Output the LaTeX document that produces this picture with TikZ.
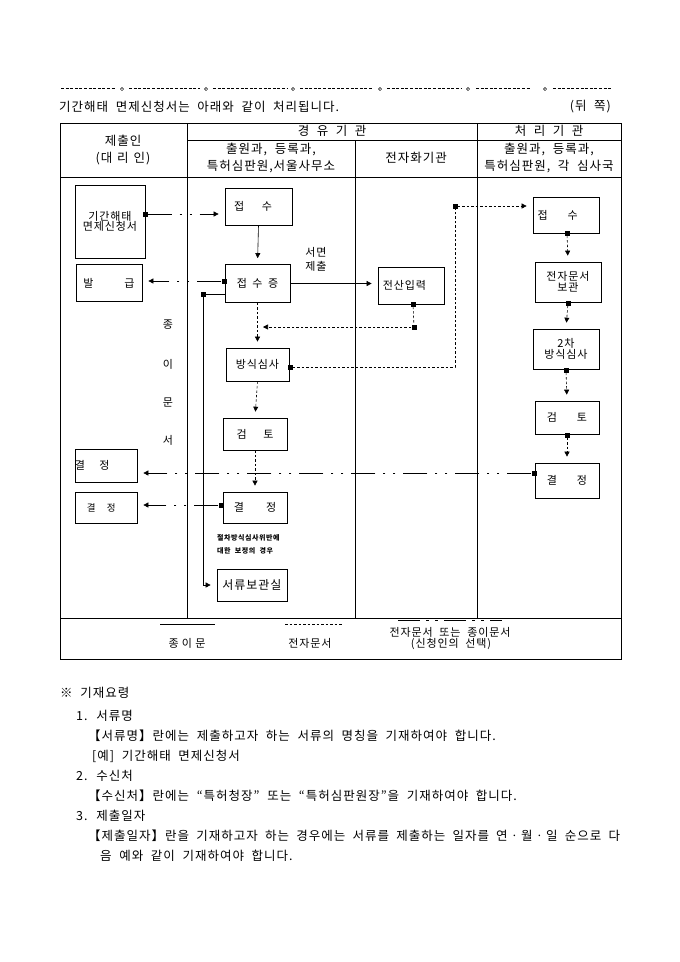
\documentclass[tikz,border=0pt]{standalone}
\usepackage{fontspec}
\setmainfont{Noto Sans CJK KR}[LetterSpace=8, WordSpace=2]
\usetikzlibrary{arrows.meta}
\newcommand{\hsz}{\fontsize{12.5}{14}\selectfont}
\newcommand{\dsz}{\fontsize{11}{12.5}\selectfont}
\newcommand{\tsz}{\fontsize{7}{8}\selectfont}
\begin{document}
\begin{tikzpicture}[x=1pt,y=-1pt,
  box/.style={draw, line width=0.7pt, inner sep=0pt, font=\dsz, align=center},
  sq/.style={fill, inner sep=0pt, minimum size=5pt},
  tbl/.style={line width=0.8pt},
  paper/.style={line width=0.6pt},
  elec/.style={line width=0.6pt, dash pattern=on 2.5pt off 2pt},
  either/.style={line width=0.6pt, dash pattern=on 24pt off 8pt on 2pt off 8pt on 2pt off 8pt},
  arr/.style={-{Triangle[length=5pt,width=5pt]}, shorten >=6pt},
  lbl/.style={inner sep=0pt, font=\dsz, align=center},
  txt/.style={inner sep=0pt, anchor=west, font=\hsz}]
\useasboundingbox (0,0) rectangle (680,962);

% top separator
\foreach \a/\b in {61/116,129/200,213/287,300/373,387/461,476/531,553/611}
  \draw[line width=0.6pt, dash pattern=on 3pt off 1.6pt] (\a,88) -- (\b,88);
\foreach \c in {122,206,293,380,468,545}
  \draw[line width=0.5pt] (\c,89) circle (1.6);

\node[txt] (title) at (59,107) {기간해태 면제신청서는 아래와 같이 처리됩니다.};
\node[inner sep=0pt, anchor=east, font=\hsz] (side) at (611,107) {(뒤\hspace{0.6em}쪽)};

% table frame
\draw[tbl] (60,123) rectangle (621,659);
\draw[tbl] (187,140) -- (621,140);
\draw[tbl] (60,177) -- (621,177);
\draw[tbl] (60,618) -- (621,618);
\draw[tbl] (187,123) -- (187,618);
\draw[tbl] (355,140) -- (355,618);
\draw[tbl] (477,123) -- (477,618);

% headers
\node[lbl, font=\hsz] (h1a) at (123,141) {제출인};
\node[lbl, font=\hsz] (h1b) at (123,159) {(대\hspace{0.4em}리\hspace{0.4em}인)};
\node[lbl, font=\hsz] (h2) at (332,131) {경\hspace{0.6em}유\hspace{0.6em}기\hspace{0.6em}관};
\node[lbl, font=\hsz] (h3) at (549,131) {처\hspace{0.6em}리\hspace{0.6em}기\hspace{0.6em}관};
\node[lbl, font=\hsz] (h2a) at (271,149) {출원과, 등록과,};
\node[lbl, font=\hsz] (h2b) at (271,167) {특허심판원,서울사무소};
\node[lbl, font=\hsz] (h4) at (416,158) {전자화기관};
\node[lbl, font=\hsz] (h3a) at (549,149) {출원과, 등록과,};
\node[lbl, font=\hsz] (h3b) at (549,167) {특허심판원, 각 심사국};

% boxes
\node[box, minimum width=70pt, minimum height=73pt] (n_app) at (110,221.5) {기간해태\\[-3pt]면제신청서};
\node[box, minimum width=67pt, minimum height=37pt] (n_rcv) at (258.5,206.5) {접\hspace{1.6em}수\hspace{1em}};
\node[box, minimum width=66pt, minimum height=37pt] (n_issue) at (109,283) {발\hspace{2.8em}급};
\node[box, minimum width=65pt, minimum height=38pt] (n_rcpt) at (257.5,283.5) {접\hspace{0.5em}수\hspace{0.5em}증};
\node[box, minimum width=66pt, minimum height=37pt] (n_input) at (411,285.5) {전산입력\hspace{1.2em}};
\node[box, minimum width=63pt, minimum height=33pt] (n_form) at (257.5,364.5) {방식심사};
\node[box, minimum width=64pt, minimum height=32pt] (n_rev) at (255,434) {검\hspace{1.5em}토};
\node[box, minimum width=64pt, minimum height=31pt] (n_dec) at (255,507.5) {결\hspace{2em}정};
\node[box, minimum width=70pt, minimum height=32pt, font=\fontsize{12}{13}\selectfont] (n_store) at (252,585) {서류보관실};
\node[box, minimum width=62pt, minimum height=33pt] (n_dec1) at (106,465.5) {};
\node[lbl, anchor=west] (t_dec1) at (n_dec1.west) {결\hspace{1.3em}정};
\node[box, minimum width=62pt, minimum height=31pt, font=\fontsize{9.5}{11}\selectfont] (n_dec2) at (106,507.5) {결\hspace{1.2em}정\hspace{1em}};
\node[box, minimum width=66pt, minimum height=36pt] (r_rcv) at (566,215) {접\hspace{1.8em}수\hspace{1.5em}};
\node[box, minimum width=66pt, minimum height=40pt] (r_keep) at (568,282) {전자문서\\[-2pt]보관};
\node[box, minimum width=66pt, minimum height=40pt] (r_form2) at (566,349) {2차\\[-2pt]방식심사};
\node[box, minimum width=64pt, minimum height=33pt] (r_rev) at (567,417.5) {검\hspace{1.8em}토};
\node[box, minimum width=64pt, minimum height=35pt] (r_dec) at (567,480.5) {결\hspace{1.8em}정};

% labels
\node[lbl] (l_sm1) at (316,252) {서면};
\node[lbl] (l_sm2) at (316,266) {제출};
\node[lbl] (v1) at (168,325) {종};
\node[lbl] (v2) at (168,364) {이};
\node[lbl] (v3) at (168,402) {문};
\node[lbl] (v4) at (168,440) {서};
\node[inner sep=0pt, anchor=west, font=\tsz\bfseries] (note1) at (217,538) {절차방식심사위반에};
\node[inner sep=0pt, anchor=west, font=\tsz\bfseries] (note2) at (217,551) {대한 보정의 경우};

% squares
\node[sq] (s1) at (145,214) {};
\node[sq] (s2) at (224,281) {};
\node[sq] (s5) at (203,294) {};
\node[sq] (s3) at (413,304) {};
\node[sq] (s4) at (414,327) {};
\node[sq] (s6) at (290,367) {};
\node[sq] (s7) at (455,206) {};
\node[sq] (s8) at (221,505) {};
\node[sq] (s9) at (534,473) {};
\node[sq] (sA) at (567,233) {};
\node[sq] (sB) at (568,303) {};
\node[sq] (sC) at (566,370) {};
\node[sq] (sD) at (567,435) {};
\coordinate (c1) at (257,327);
\coordinate (c2) at (455,367);
\coordinate (c3) at (203,585);

% connectors
\draw[either, arr] (s1) -- (s1 -| n_rcv.west);
\draw[paper, arr] (n_rcv.south) -- (n_rcpt.north);
\draw[either, arr] (s2) -- (s2 -| n_issue.east);
\draw[paper, arr] (n_rcpt.east) -- (n_rcpt.east -| n_input.west);
\draw[paper] (s5) -- (s5 -| n_rcpt.west);
\draw[paper] (s5) -- (c3);
\draw[paper, arr] (c3) -- (n_store.west);
\draw[elec] (s3) -- (s4);
\draw[elec, arr] (s4) -- (c1);
\draw[elec, arr] (n_rcpt.south) -- (n_form.north);
\draw[elec] (s6) -- (c2) -- (s7);
\draw[elec, arr] (s7) -- (s7 -| r_rcv.west);
\draw[elec, arr] (n_form.south) -- (n_rev.north);
\draw[elec, arr] (n_rev.south) -- (n_dec.north);
\draw[either, arr] (s8) -- (s8 -| n_dec2.east);
\draw[either, arr] (s9) -- (s9 -| n_dec1.east);
\draw[elec, arr] (sA) -- (r_keep.north);
\draw[elec, arr] (sB) -- (r_form2.north);
\draw[elec, arr] (sC) -- (r_rev.north);
\draw[elec, arr] (sD) -- (r_dec.north);

% legend
\draw[paper] (160,624) -- (215,624);
\node[lbl] (lg1) at (187,643) {종\hspace{0.3em}이\hspace{0.3em}문};
\draw[elec] (285,624) -- (342,624);
\node[lbl] (lg2) at (310,643) {전자문서};
\draw[line width=0.7pt, dash pattern=on 22pt off 6pt on 3pt off 6pt on 3pt off 6pt] (398,620) -- (502,620);
\node[lbl] (lg3a) at (450,632) {전자문서 또는 종이문서};
\node[lbl] (lg3b) at (451,644) {(신청인의 선택)};

% notes
\node[txt] (m0) at (60,693) {※ 기재요령};
\node[txt] (m1) at (76,716) {1. 서류명};
\node[txt] (m1a) at (88,736) {【서류명】란에는 제출하고자 하는 서류의 명칭을 기재하여야 합니다.};
\node[txt] (m1b) at (92,756) {[예] 기간해태 면제신청서};
\node[txt] (m2) at (76,776) {2. 수신처};
\node[txt] (m2a) at (88,796) {【수신처】란에는 “특허청장” 또는 “특허심판원장”을 기재하여야 합니다.};
\node[txt] (m3) at (76,816) {3. 제출일자};
\node[txt] (m3a) at (88,836) {\makebox[532pt][s]{【제출일자】란을 기재하고자 하는 경우에는 서류를 제출하는 일자를 연ㆍ월ㆍ일 순으로 다}};
\node[txt] (m3b) at (100,856) {음 예와 같이 기재하여야 합니다.};
\end{tikzpicture}
\end{document}
